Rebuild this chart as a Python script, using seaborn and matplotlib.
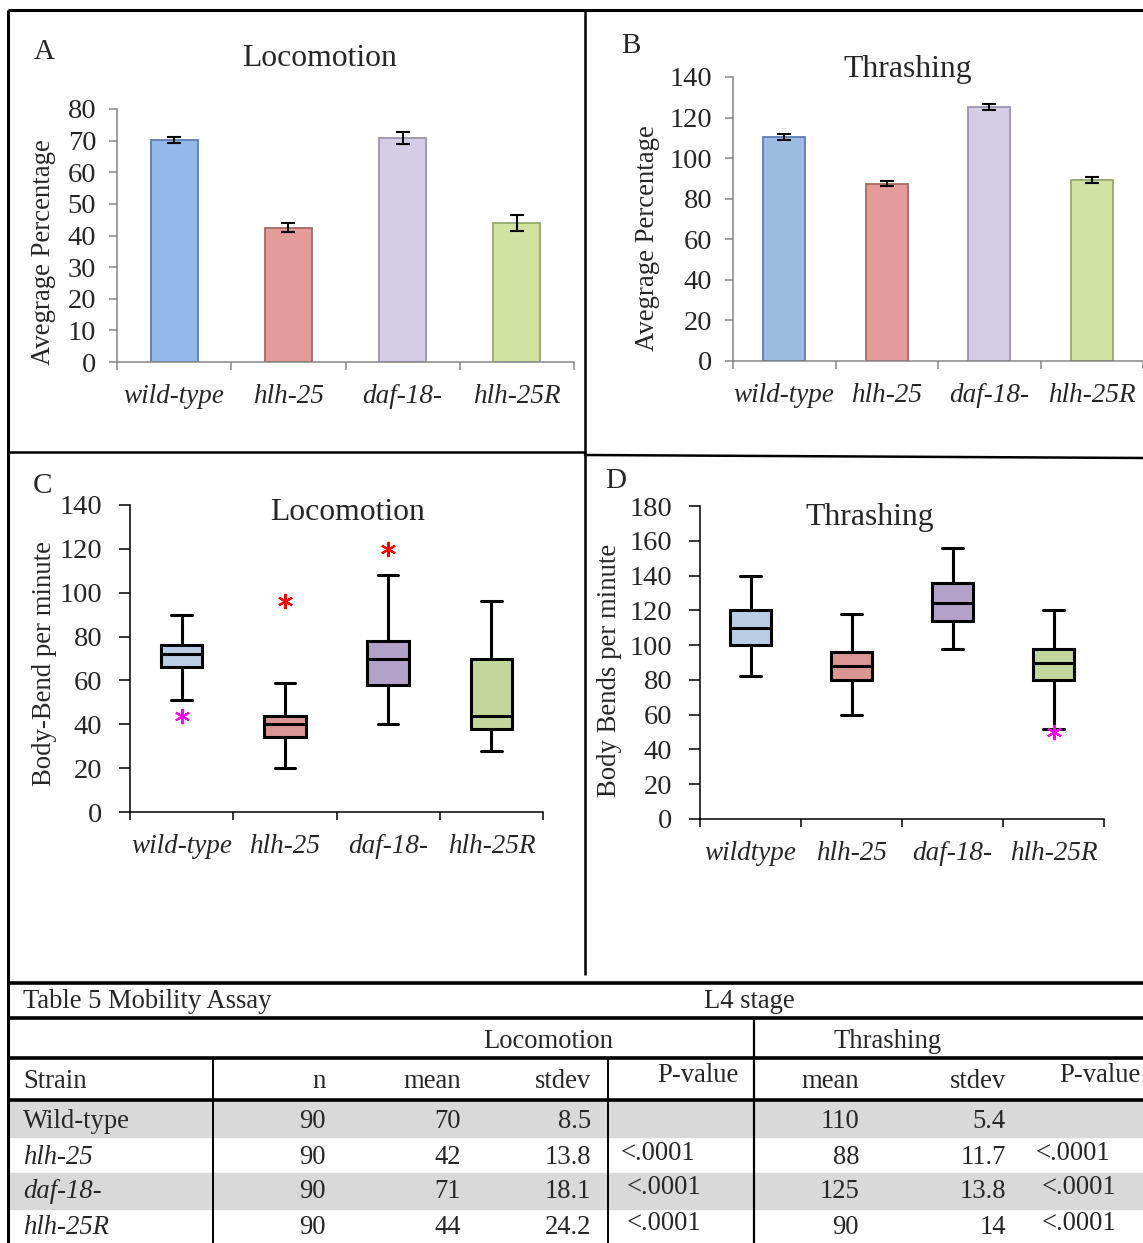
import numpy as np
import pandas as pd
import matplotlib
matplotlib.use("Agg")
import matplotlib.pyplot as plt
import seaborn as sns
from matplotlib.lines import Line2D
from matplotlib.patches import Rectangle

# ---------------- data ----------------
strains = ["wild-type", "hlh-25", "daf-18-", "hlh-25R"]
strains_d = ["wildtype", "hlh-25", "daf-18-", "hlh-25R"]

loco_avg = [70.2, 42.5, 70.8, 43.9]
loco_err = [0.9, 1.5, 1.9, 2.6]
thr_avg = [110.2, 87.3, 125.3, 89.3]
thr_err = [1.5, 1.2, 1.4, 1.6]

loco_low = [51, 20, 40, 28]
loco_q1 = [66, 34, 58, 38]
loco_med = [72, 40, 70, 44]
loco_q3 = [76, 44, 78, 70]
loco_high = [90, 59, 108, 96]
loco_out_strain = ["wild-type", "hlh-25", "daf-18-"]
loco_out_val = [44, 96, 120]
loco_out_col = ["#FF00FF", "#FF0000", "#FF0000"]

thr_low = [82, 60, 98, 52]
thr_q1 = [100, 80, 114, 80]
thr_med = [110, 88, 124, 90]
thr_q3 = [120, 96, 136, 98]
thr_high = [140, 118, 156, 120]
thr_out_strain = ["hlh-25R"]
thr_out_val = [50]
thr_out_col = ["#FF00FF"]

bar_colors_a = ["#93B8EA", "#E49C9A", "#D5CCE5", "#D1E2A3"]
bar_colors_b = ["#9DBCE2", "#E49C9A", "#D5CCE5", "#D1E2A3"]
bar_edges = ["#5B7FAE", "#A86866", "#9C93AE", "#97A86C"]
box_colors = ["#B9CDE5", "#D99694", "#B3A2C7", "#C3D69B"]

tbl_strain = ["Wild-type", "hlh-25", "daf-18-", "hlh-25R"]
tbl_italic = [False, True, True, True]
tbl_n = ["90", "90", "90", "90"]
tbl_loco_mean = ["70", "42", "71", "44"]
tbl_loco_sd = ["8.5", "13.8", "18.1", "24.2"]
tbl_loco_p = ["", "<.0001", "<.0001", "<.0001"]
tbl_thr_mean = ["110", "88", "125", "90"]
tbl_thr_sd = ["5.4", "11.7", "13.8", "14"]
tbl_thr_p = ["", "<.0001", "<.0001", "<.0001"]

# ---------------- style ----------------
sns.set_theme(style="white")
plt.rcParams["font.family"] = ["Liberation Serif", "DejaVu Serif"]
plt.rcParams["mathtext.fontset"] = "stix"

W, H = 1143, 1243
fig = plt.figure(figsize=(W / 100, H / 100), dpi=100)
fig.patch.set_facecolor("white")


def rect(l, t, r, b):
    return [l / W, 1 - b / H, (r - l) / W, (b - t) / H]


def fx(x):
    return x / W


def fy(y):
    return 1 - y / H


# overlay for frame + table
ov = fig.add_axes([0, 0, 1, 1])
ov.set_xlim(0, W)
ov.set_ylim(H, 0)
ov.axis("off")
ov.set_zorder(0)


def hline(y, x0, x1, lw=2.2):
    ov.add_line(Line2D([x0, x1], [y, y], color="black", lw=lw, solid_capstyle="butt"))


def vline(x, y0, y1, lw=2.2):
    ov.add_line(Line2D([x, x], [y0, y1], color="black", lw=lw, solid_capstyle="butt"))


# frame lines
hline(10, 8, W, 2.2)
vline(8, 10, H, 2.2)
vline(585, 10, 975, 1.8)
ov.add_line(Line2D([8, 585], [452, 452], color="black", lw=1.8))
ov.add_line(Line2D([585, W], [455, 458], color="black", lw=1.8))

# table
for y0, y1 in [(1100, 1137), (1173, 1209)]:
    ov.add_patch(Rectangle((8, y0), W - 8, y1 - y0, color="#D9D9D9", zorder=0))
hline(983, 8, W, 2.6)
hline(1018, 8, W, 2.6)
hline(1058, 8, W, 2.6)
hline(1100, 8, W, 2.6)
vline(754, 1018, H, 1.6)
vline(213, 1058, H, 1.4)
vline(608, 1058, H, 1.4)

tfs = 19.2
ov.text(23, 1001, "Table 5 Mobility Assay", fontsize=tfs, ha="left", va="center")
ov.text(749, 1001, "L4 stage", fontsize=tfs, ha="center", va="center")
ov.text(548, 1042, "Locomotion", fontsize=tfs, ha="center", va="center")
ov.text(888, 1042, "Thrashing", fontsize=tfs, ha="center", va="center")
hy = 1082
ov.text(23, hy, "Strain", fontsize=tfs, ha="left", va="center")
ov.text(326, hy, "n", fontsize=tfs, ha="right", va="center")
ov.text(461, hy, "mean", fontsize=tfs, ha="right", va="center")
ov.text(591, hy, "stdev", fontsize=tfs, ha="right", va="center")
ov.text(698, 1076, "P-value", fontsize=tfs, ha="center", va="center")
ov.text(859, hy, "mean", fontsize=tfs, ha="right", va="center")
ov.text(1006, hy, "stdev", fontsize=tfs, ha="right", va="center")
ov.text(1100, 1076, "P-value", fontsize=tfs, ha="center", va="center")

row_y = [1121, 1157, 1192, 1228]
for i, y in enumerate(row_y):
    ov.text(23, y, tbl_strain[i], fontsize=tfs, ha="left", va="center",
            style="italic" if tbl_italic[i] else "normal")
    ov.text(326, y, tbl_n[i], fontsize=tfs, ha="right", va="center")
    ov.text(461, y, tbl_loco_mean[i], fontsize=tfs, ha="right", va="center")
    ov.text(591, y, tbl_loco_sd[i], fontsize=tfs, ha="right", va="center")
    ov.text(621 if i == 1 else 627, y - 4, tbl_loco_p[i], fontsize=tfs, ha="left", va="center")
    ov.text(859, y, tbl_thr_mean[i], fontsize=tfs, ha="right", va="center")
    ov.text(1006, y, tbl_thr_sd[i], fontsize=tfs, ha="right", va="center")
    ov.text(1036 if i == 1 else 1042, y - 4, tbl_thr_p[i], fontsize=tfs, ha="left", va="center")

pos = np.arange(len(strains))


def style_axes(ax, ymax, step, labels, spine_col):
    ax.set_facecolor("none")
    ax.set_xlim(-0.5, 3.5)
    ax.set_ylim(0, ymax)
    ax.set_yticks(np.arange(0, ymax + 1, step))
    ax.set_xticks(pos)
    ax.set_xticklabels(labels, fontsize=19.5, style="italic")
    ax.set_xticks(np.arange(-0.5, 4.0, 1.0), minor=True)
    for s in ["top", "right"]:
        ax.spines[s].set_visible(False)
    for s in ["left", "bottom"]:
        ax.spines[s].set_color(spine_col)
        ax.spines[s].set_linewidth(1.1)
    ax.tick_params(axis="x", which="major", length=0, pad=16, labelsize=19.5)
    ax.tick_params(axis="x", which="minor", length=6, width=1.1, color=spine_col, direction="out", bottom=True)
    ax.tick_params(axis="y", which="major", length=6, width=1.1, color=spine_col, direction="out",
                   left=True, pad=9, labelsize=20.5)
    ax.set_xlabel("")
    ax.set_ylabel("")
    ax.set_zorder(1)


# ---------------- panel A / B (bars) ----------------
for rc, avg, err, cols, ymax, step, title, tpos, letter, lpos, ylabpos in [
    (rect(117, 109, 574, 362), loco_avg, loco_err, bar_colors_a, 80, 10, "Locomotion", (320, 58), "A", (44, 52), (44, 252)),
    (rect(733, 77, 1143, 361), thr_avg, thr_err, bar_colors_b, 140, 20, "Thrashing", (908, 70), "B", (631, 46), (647, 238)),
]:
    ax = fig.add_axes(rc)
    df = pd.DataFrame({"strain": strains, "value": avg})
    sns.barplot(data=df, x="strain", y="value", hue="strain", palette=cols, order=strains,
                hue_order=strains, legend=False, width=0.41, saturation=1, ax=ax)
    for p, ec in zip(ax.patches, bar_edges):
        p.set_edgecolor(ec)
        p.set_linewidth(1.3)
    ax.errorbar(pos, avg, yerr=err, fmt="none", ecolor="black", elinewidth=1.5,
                capsize=5, capthick=1.5, zorder=5)
    style_axes(ax, ymax, step, strains, "#868686")
    fig.text(fx(tpos[0]), fy(tpos[1]), title, fontsize=22.8, ha="center", va="center")
    fig.text(fx(lpos[0]), fy(lpos[1]), letter, fontsize=21, ha="center", va="center")
    fig.text(fx(ylabpos[0]), fy(ylabpos[1]), "Avegrage Percentage", fontsize=19.3,
             rotation=90, ha="center", va="center")

# ---------------- panel C / D (boxes) ----------------
for rc, lows, q1s, meds, q3s, highs, ostr, oval, ocol, ymax, labels, title, tpos, letter, lpos, ylab, ylabpos in [
    (rect(130, 505, 543, 812), loco_low, loco_q1, loco_med, loco_q3, loco_high,
     loco_out_strain, loco_out_val, loco_out_col, 140, strains, "Locomotion", (348, 512), "C", (42, 486),
     "Body-Bend per minute", (45, 664)),
    (rect(700, 506, 1104, 819), thr_low, thr_q1, thr_med, thr_q3, thr_high,
     thr_out_strain, thr_out_val, thr_out_col, 180, strains_d, "Thrashing", (870, 518), "D", (616, 481),
     "Body Bends per minute", (609, 670)),
]:
    ax = fig.add_axes(rc)
    rows = []
    for i, s in enumerate(strains):
        for v in (lows[i], q1s[i], meds[i], q3s[i], highs[i]):
            rows.append({"strain": s, "value": v})
    df = pd.DataFrame(rows)
    sns.boxplot(data=df, x="strain", y="value", hue="strain", order=strains, hue_order=strains,
                palette=box_colors, saturation=1, legend=False, whis=(0, 100), width=0.4,
                linecolor="black", linewidth=2.2, showfliers=False, ax=ax)
    for s, v, c in zip(ostr, oval, ocol):
        ax.plot([strains.index(s)], [v], ls="none", marker=(6, 2, 0), ms=11, mew=1.5, color=c, zorder=6)
    style_axes(ax, ymax, 20, labels, "black")
    ax.tick_params(axis="y", length=8, pad=12)
    fig.text(fx(tpos[0]), fy(tpos[1]), title, fontsize=22.8, ha="center", va="center")
    fig.text(fx(lpos[0]), fy(lpos[1]), letter, fontsize=21, ha="center", va="center")
    fig.text(fx(ylabpos[0]), fy(ylabpos[1]), ylab, fontsize=19.3, rotation=90, ha="center", va="center")

fig.savefig("out.png", dpi=100)
